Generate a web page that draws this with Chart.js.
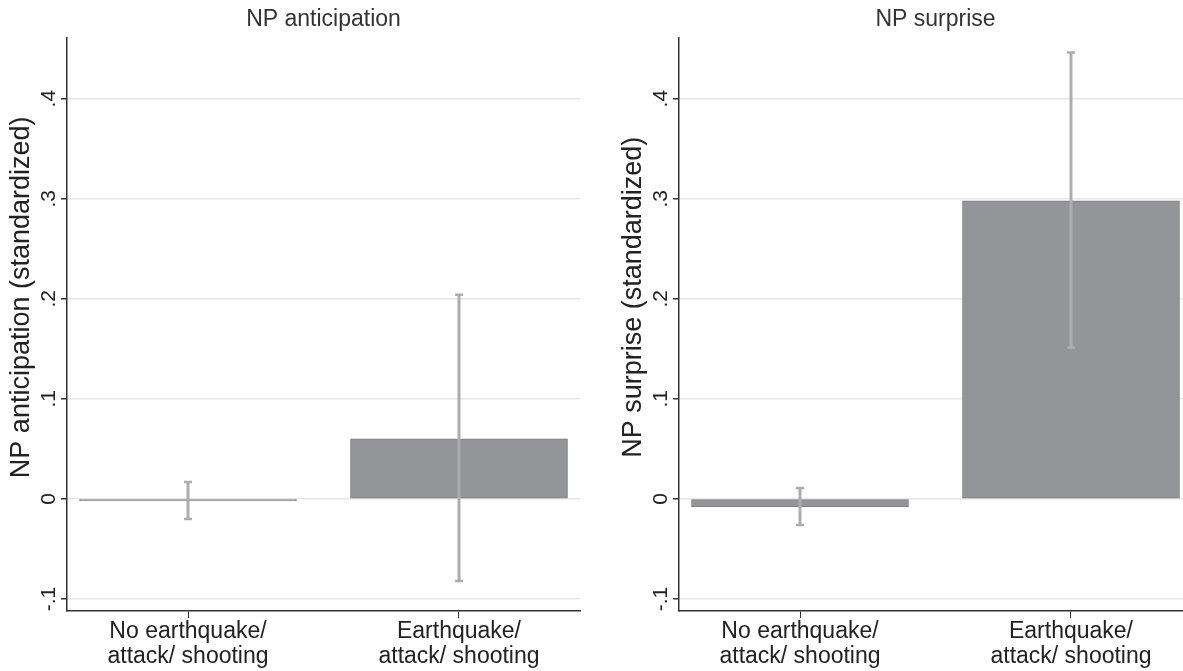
<!DOCTYPE html>
<html>
<head>
<meta charset="utf-8">
<script src="https://cdn.jsdelivr.net/npm/chart.js@4.4.1/dist/chart.umd.min.js"></script>
<style>
  html, body { margin: 0; padding: 0; background: #fff; overflow: hidden; }
  #wrap { position: relative; width: 1183px; height: 671px; overflow: hidden; }
  .panel { position: absolute; top: 0; width: 600px; height: 671px; }
</style>
</head>
<body>
<div id="wrap">
  <div class="panel" style="left:0"><canvas id="antChart"></canvas></div>
  <div class="panel" style="left:612px"><canvas id="surChart"></canvas></div>
</div>
<script>
// categories and tick labels
const categories  = [['No earthquake/', 'attack/ shooting'], ['Earthquake/', 'attack/ shooting']];
const yTicks      = [-0.1, 0, 0.1, 0.2, 0.3, 0.4];
const yTickLabels = ['-.1', '0', '.1', '.2', '.3', '.4'];

// NP anticipation: means and 95% CI
const antMean = [-0.002, 0.060];
const antLo   = [-0.020, -0.082];
const antHi   = [0.017, 0.204];

// NP surprise: means and 95% CI
const surMean = [-0.008, 0.298];
const surLo   = [-0.026, 0.151];
const surHi   = [0.011, 0.446];

const FONT = 'Liberation Sans, Arial, sans-serif';

// CI whiskers from lo/hi arrays, placed through the chart scales
const errBarPlugin = {
  id: 'errBars',
  afterDatasetsDraw(chart, args, opts) {
    const { ctx, scales: { x, y } } = chart;
    ctx.save();
    ctx.strokeStyle = '#adadb1';
    opts.lo.forEach((lo, i) => {
      const px = x.getPixelForValue(i + 1);
      const yLo = y.getPixelForValue(lo);
      const yHi = y.getPixelForValue(opts.hi[i]);
      ctx.lineWidth = 3;
      ctx.beginPath();
      ctx.moveTo(px, yLo); ctx.lineTo(px, yHi);
      ctx.stroke();
      ctx.lineWidth = 2.5;
      ctx.beginPath();
      ctx.moveTo(px - 4, yLo); ctx.lineTo(px + 4, yLo);
      ctx.moveTo(px - 4, yHi); ctx.lineTo(px + 4, yHi);
      ctx.stroke();
    });
    ctx.restore();
  },
};

// y title sits a bit above the plot centre, as in the Stata original
const yTitlePlugin = {
  id: 'yTitle',
  afterDraw(chart, args, opts) {
    const { ctx, chartArea } = chart;
    ctx.save();
    ctx.translate(22, (chartArea.top + chartArea.bottom) / 2 - 27);
    ctx.rotate(-Math.PI / 2);
    ctx.font = `27px ${FONT}`;
    ctx.fillStyle = '#222';
    ctx.textAlign = 'center';
    ctx.textBaseline = 'middle';
    ctx.fillText(opts.text, 0, 0);
    ctx.restore();
  },
};

function makePanel(id, title, yTitle, mean, lo, hi) {
  return new Chart(document.getElementById(id), {
    type: 'bar',
    data: {
      datasets: [{
        data: mean.map((v, i) => ({ x: i + 1, y: v })),
        backgroundColor: '#939598',
        borderColor: '#7c7d80',
        borderWidth: 1,
        borderSkipped: false,
        barThickness: 217,
      }],
    },
    plugins: [errBarPlugin, yTitlePlugin],
    options: {
      responsive: true, maintainAspectRatio: false, animation: false,
      layout: { padding: { left: 0, right: 20, top: 0, bottom: 0 } },
      plugins: {
        legend: { display: false },
        tooltip: { enabled: false },
        title: {
          display: true, text: title, color: '#333', fullSize: false,
          font: { family: FONT, size: 23, weight: 'normal' },
          padding: { top: 6, bottom: 4 },
        },
        errBars: { lo, hi },
        yTitle: { text: yTitle },
      },
      scales: {
        x: {
          type: 'linear', min: 0.5535, max: 2.4465, offset: false,
          afterBuildTicks: s => { s.ticks = categories.map((_, i) => ({ value: i + 1 })); },
          afterFit: s => { s.height = 60; },
          ticks: {
            color: '#222', font: { family: FONT, size: 23, lineHeight: 1.05 }, padding: 2,
            maxRotation: 0, autoSkip: false,
            callback: v => categories[v - 1],
          },
          grid: { offset: false, drawOnChartArea: false, drawTicks: true, tickLength: 7, tickColor: '#333' },
          border: { display: true, color: '#333', width: 1.5 },
        },
        y: {
          min: -0.112, max: 0.461,
          afterBuildTicks: s => { s.ticks = yTicks.map(v => ({ value: v })); },
          afterFit: s => { s.width = 67; },
          ticks: {
            color: '#222', font: { family: FONT, size: 21 }, padding: 0,
            minRotation: 90, maxRotation: 90, crossAlign: 'center',
            callback: v => yTickLabels[yTicks.indexOf(v)],
          },
          grid: { color: '#e6e6e6', lineWidth: 1.5, tickLength: 6, tickColor: '#333' },
          border: { display: true, color: '#333', width: 1.5 },
        },
      },
    },
  });
}

makePanel('antChart', 'NP anticipation', 'NP anticipation (standardized)', antMean, antLo, antHi);
makePanel('surChart', 'NP surprise', 'NP surprise (standardized)', surMean, surLo, surHi);
</script>
</body>
</html>
